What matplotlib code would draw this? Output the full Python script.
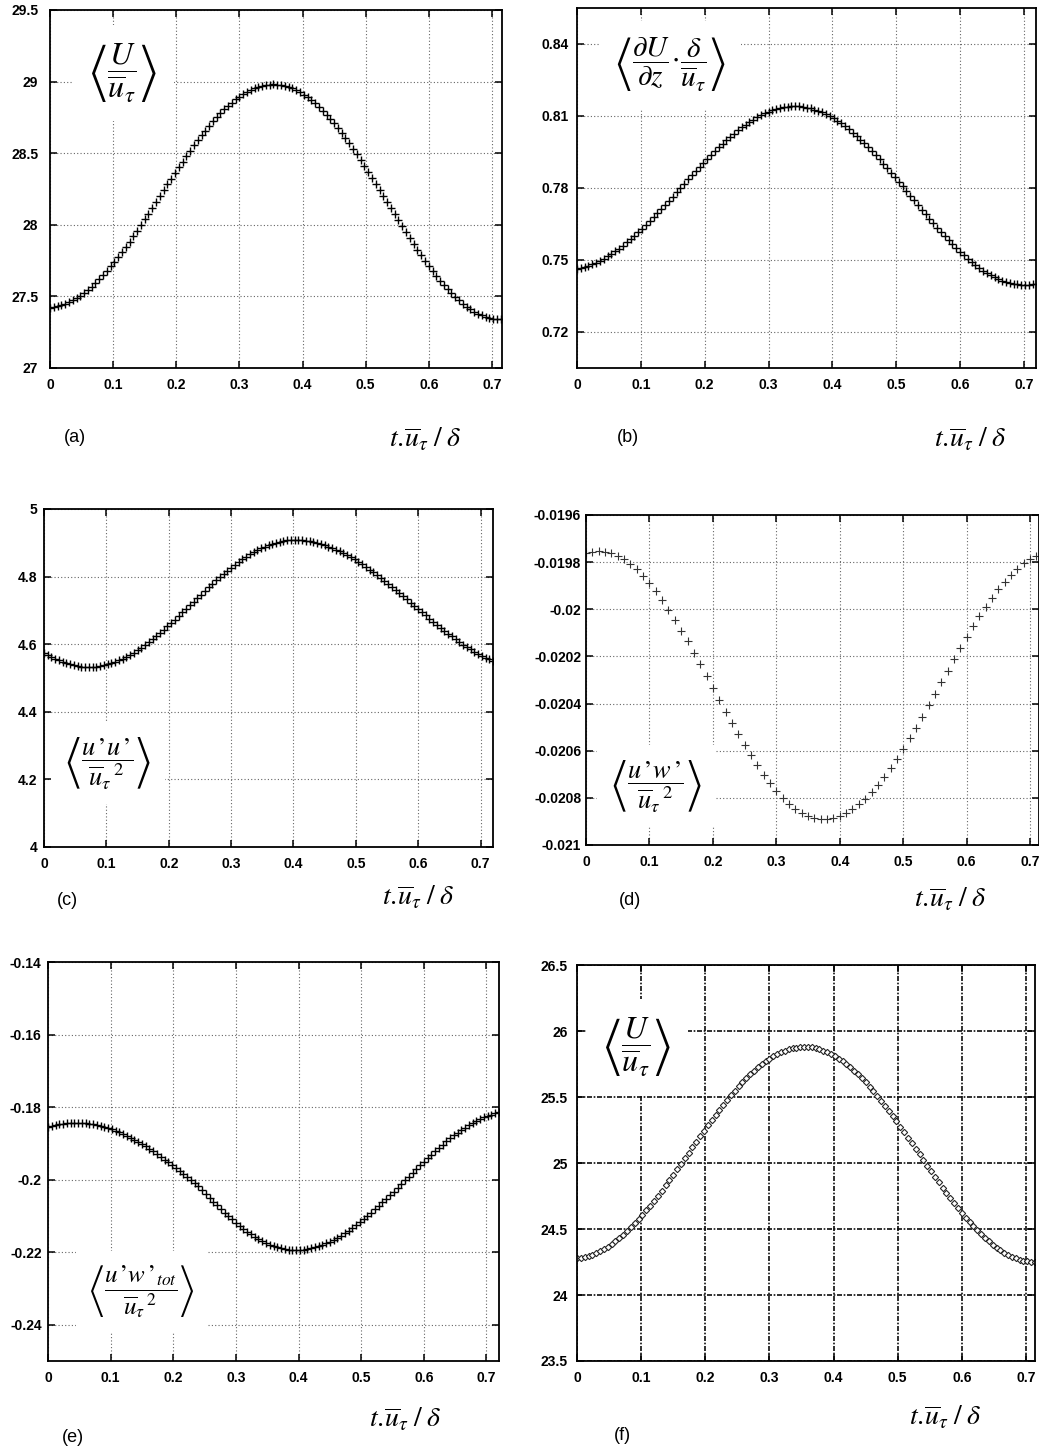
import numpy as np
import matplotlib
matplotlib.use("Agg")
import matplotlib.pyplot as plt
from matplotlib.ticker import FormatStrFormatter, FixedLocator

plt.rcParams['mathtext.fontset'] = 'stix'
plt.rcParams['font.family'] = ['Liberation Sans', 'DejaVu Sans']

W, H = 1039, 1452

# --- data (time step 0.006 for a,b,c,e,f; 0.01 for d) ---
t_fine = np.linspace(0.0, 0.72, 121)
t_coarse = np.linspace(0.0, 0.72, 73)

# (a) <U/u_tau>
u_mean_a = [
    27.421, 27.424, 27.430, 27.437, 27.447, 27.458, 27.472, 27.487, 27.505, 27.525,
    27.546, 27.569, 27.594, 27.620, 27.648, 27.678, 27.709, 27.742, 27.775, 27.810,
    27.846, 27.883, 27.920, 27.959, 27.998, 28.038, 28.078, 28.118, 28.159, 28.200,
    28.241, 28.282, 28.322, 28.362, 28.402, 28.441, 28.480, 28.517, 28.554, 28.590,
    28.625, 28.658, 28.691, 28.722, 28.752, 28.780, 28.806, 28.831, 28.854, 28.876,
    28.895, 28.913, 28.928, 28.942, 28.953, 28.963, 28.970, 28.976, 28.979, 28.980,
    28.979, 28.975, 28.970, 28.962, 28.952, 28.940, 28.926, 28.909, 28.891, 28.870,
    28.848, 28.823, 28.797, 28.769, 28.740, 28.709, 28.676, 28.642, 28.607, 28.570,
    28.532, 28.494, 28.454, 28.413, 28.372, 28.330, 28.288, 28.246, 28.203, 28.160,
    28.117, 28.074, 28.032, 27.990, 27.948, 27.907, 27.866, 27.827, 27.788, 27.750,
    27.713, 27.678, 27.644, 27.611, 27.580, 27.551, 27.523, 27.497, 27.472, 27.450,
    27.429, 27.411, 27.394, 27.380, 27.368, 27.358, 27.350, 27.345, 27.341, 27.340,
    27.341,
]

# (b) <dU/dz . delta/u_tau>
dudz_b = [
    0.7464, 0.7467, 0.7472, 0.7477, 0.7483, 0.7489, 0.7497, 0.7506, 0.7515, 0.7525,
    0.7536, 0.7547, 0.7560, 0.7573, 0.7586, 0.7600, 0.7615, 0.7630, 0.7646, 0.7662,
    0.7678, 0.7695, 0.7712, 0.7729, 0.7747, 0.7764, 0.7782, 0.7800, 0.7818, 0.7836,
    0.7853, 0.7871, 0.7888, 0.7905, 0.7922, 0.7938, 0.7954, 0.7970, 0.7985, 0.8000,
    0.8014, 0.8027, 0.8040, 0.8053, 0.8064, 0.8075, 0.8085, 0.8094, 0.8103, 0.8111,
    0.8117, 0.8123, 0.8128, 0.8133, 0.8136, 0.8138, 0.8140, 0.8140,
    0.8140, 0.8138, 0.8135, 0.8132, 0.8127, 0.8122, 0.8115, 0.8108, 0.8100, 0.8090,
    0.8080, 0.8069, 0.8057, 0.8044, 0.8031, 0.8017, 0.8002, 0.7987, 0.7971, 0.7954,
    0.7937, 0.7919, 0.7901, 0.7883, 0.7864, 0.7845, 0.7826, 0.7807, 0.7788, 0.7768,
    0.7749, 0.7729, 0.7710, 0.7691, 0.7672, 0.7653, 0.7635, 0.7617, 0.7599, 0.7582,
    0.7565, 0.7549, 0.7534, 0.7519, 0.7505, 0.7492, 0.7479, 0.7467, 0.7456, 0.7446,
    0.7437, 0.7428, 0.7421, 0.7414, 0.7409, 0.7404, 0.7401, 0.7398, 0.7397, 0.7396,
    0.7397, 0.7398, 0.7401,
]

# (c) <u'u'/u_tau^2>
uu_c = [
    4.575, 4.569, 4.563, 4.557, 4.552, 4.548, 4.544, 4.541, 4.538, 4.536, 4.534, 4.533,
    4.533, 4.533, 4.534, 4.536, 4.538, 4.541, 4.544, 4.548, 4.552, 4.557,
    4.563, 4.569, 4.575, 4.582, 4.590, 4.598, 4.606, 4.615, 4.624, 4.633,
    4.643, 4.653, 4.663, 4.673, 4.683, 4.694, 4.705, 4.715, 4.726, 4.737,
    4.747, 4.758, 4.768, 4.778, 4.789, 4.798, 4.808, 4.817, 4.826, 4.835,
    4.843, 4.851, 4.859, 4.866, 4.872, 4.878, 4.884, 4.889, 4.893, 4.897,
    4.900, 4.903, 4.905, 4.907, 4.908, 4.908,
    4.908, 4.907, 4.906, 4.904, 4.902, 4.900, 4.897, 4.893, 4.889, 4.885,
    4.880, 4.875, 4.870, 4.864, 4.858, 4.851, 4.844, 4.837, 4.829, 4.821,
    4.813, 4.805, 4.797, 4.788, 4.779, 4.770, 4.761, 4.751, 4.742, 4.733,
    4.723, 4.714, 4.704, 4.695, 4.685, 4.676, 4.667, 4.658, 4.649, 4.640,
    4.631, 4.623, 4.615, 4.607, 4.599, 4.592, 4.585, 4.578, 4.572, 4.566,
    4.560, 4.555, 4.550,
]

# (d) <u'w'/u_tau^2>
uw_d = [
    -0.019762, -0.019755, -0.019753, -0.019755, -0.019762, -0.019773, -0.019788, -0.019808, -0.019831, -0.019859,
    -0.019890, -0.019924, -0.019961, -0.020002, -0.020045, -0.020090, -0.020136, -0.020184, -0.020234, -0.020284,
    -0.020334, -0.020384, -0.020434, -0.020483, -0.020530, -0.020576, -0.020620, -0.020662, -0.020701, -0.020737,
    -0.020769, -0.020799, -0.020824, -0.020846, -0.020863, -0.020876, -0.020885, -0.020889,
    -0.020889, -0.020885, -0.020877, -0.020864, -0.020848, -0.020828, -0.020803, -0.020776, -0.020745, -0.020710,
    -0.020673, -0.020634, -0.020592, -0.020548, -0.020502, -0.020455, -0.020407,
    -0.020358, -0.020310, -0.020261, -0.020212, -0.020165, -0.020119, -0.020073, -0.020030, -0.019990, -0.019951,
    -0.019915, -0.019883, -0.019854, -0.019827, -0.019805, -0.019787, -0.019772, -0.019761,
]

# (e) <u'w'_tot/u_tau^2>
uw_tot_e = [
    -0.18544, -0.18516, -0.18492, -0.18471, -0.18455, -0.18443, -0.18435, -0.18431, -0.18431, -0.18435,
    -0.18443, -0.18455, -0.18471, -0.18492, -0.18516, -0.18544, -0.18576, -0.18612, -0.18651, -0.18694,
    -0.18741, -0.18790, -0.18844, -0.18900, -0.18959, -0.19021, -0.19086, -0.19153, -0.19223, -0.19295,
    -0.19369, -0.19445, -0.19523, -0.19602, -0.19683, -0.19765, -0.19848, -0.19931, -0.20016, -0.20100,
    -0.20185, -0.20292, -0.20398, -0.20503, -0.20608, -0.20710, -0.20811, -0.20910, -0.21005, -0.21098,
    -0.21188, -0.21273, -0.21355, -0.21432, -0.21505, -0.21573, -0.21636, -0.21693, -0.21745, -0.21791,
    -0.21831, -0.21865, -0.21893, -0.21914, -0.21929, -0.21938, -0.21940, -0.21936, -0.21927, -0.21912,
    -0.21892, -0.21866, -0.21835, -0.21799, -0.21757, -0.21711, -0.21659, -0.21603, -0.21542, -0.21477,
    -0.21408, -0.21334, -0.21257, -0.21176, -0.21092, -0.21005, -0.20915, -0.20822, -0.20727, -0.20630,
    -0.20531, -0.20430, -0.20329, -0.20226, -0.20123, -0.20020, -0.19917, -0.19814, -0.19711, -0.19610,
    -0.19509, -0.19410, -0.19313, -0.19218, -0.19125, -0.19035, -0.18948, -0.18864, -0.18783, -0.18706,
    -0.18632, -0.18563, -0.18498, -0.18437, -0.18381, -0.18329, -0.18283, -0.18241, -0.18205, -0.18174,
    -0.18148,
]

# (f) <U/u_tau>, second case
u_mean_f = [
    24.279, 24.282, 24.288, 24.296, 24.305, 24.317, 24.331, 24.347, 24.365, 24.385,
    24.407, 24.431, 24.456, 24.484, 24.512, 24.543, 24.575, 24.608, 24.642, 24.678,
    24.715, 24.753, 24.791, 24.831, 24.871, 24.912, 24.953, 24.994, 25.036, 25.078,
    25.120, 25.162, 25.203, 25.244, 25.285, 25.325, 25.365, 25.403, 25.441, 25.478,
    25.514, 25.548, 25.581, 25.613, 25.644, 25.672, 25.700, 25.725, 25.749, 25.771,
    25.791, 25.809, 25.825, 25.839, 25.851, 25.860, 25.868, 25.874, 25.877, 25.878,
    25.878, 25.876, 25.870, 25.862, 25.852, 25.840, 25.826, 25.810, 25.791, 25.771,
    25.749, 25.724, 25.698, 25.671, 25.641, 25.610, 25.578, 25.544, 25.509, 25.473,
    25.435, 25.397, 25.357, 25.317, 25.276, 25.234, 25.192, 25.150, 25.108, 25.065,
    25.022, 24.980, 24.938, 24.896, 24.854, 24.813, 24.773, 24.733, 24.695, 24.657,
    24.621, 24.586, 24.552, 24.520, 24.489, 24.459, 24.432, 24.406, 24.381, 24.359,
    24.339, 24.320, 24.304, 24.290, 24.278, 24.268, 24.260, 24.254, 24.251, 24.250,
    24.251,
]

x_ticks = [0, 0.1, 0.2, 0.3, 0.4, 0.5, 0.6, 0.7]

U_LABEL = r'$\left\langle \dfrac{U}{\overline{u}_{\tau}} \right\rangle$'
XLABEL = r'$t{.}\!\overline{u}_{\tau}\;/\;\delta$'

# panel layout: pixel box (left, top, right, bottom), limits, ticks, label placement
panels = [
    dict(letter='(a)', box=(50, 10, 502, 368), x=t_fine, y=u_mean_a, xmax=0.716,
         ylim=(27, 29.5), yticks=[27, 27.5, 28, 28.5, 29, 29.5], ypad=8.5,
         label=U_LABEL, lab_xy=(123, 73), lab_size=23,
         letter_xy=(75, 437), xl_xy=(425, 440), style='plus'),
    dict(letter='(b)', box=(577, 8, 1036, 368), x=t_fine, y=dudz_b, xmax=0.719,
         ylim=(0.705, 0.855), yticks=[0.72, 0.75, 0.78, 0.81, 0.84], ypad=6,
         label=r'$\left\langle \dfrac{\partial U}{\partial z}\!\cdot\!\dfrac{\delta}{\overline{u}_{\tau}} \right\rangle$',
         lab_xy=(670, 65), lab_size=21,
         letter_xy=(628, 437), xl_xy=(970, 440), style='plus'),
    dict(letter='(c)', box=(44, 509, 493, 847), x=t_fine, y=uu_c, xmax=0.72,
         ylim=(4, 5), yticks=[4, 4.2, 4.4, 4.6, 4.8, 5], ypad=5,
         label=r"$\left\langle \dfrac{u\,’u\,’}{{\overline{u}_{\tau}}^{\,2}} \right\rangle$",
         lab_xy=(108, 763), lab_size=19,
         letter_xy=(67, 900), xl_xy=(418, 898), style='plus'),
    dict(letter='(d)', box=(586, 515, 1039, 845), x=t_coarse, y=uw_d, xmax=0.714,
         ylim=(-0.021, -0.0196),
         yticks=[-0.021, -0.0208, -0.0206, -0.0204, -0.0202, -0.02, -0.0198, -0.0196], ypad=3.5,
         label=r"$\left\langle \dfrac{u\,’w\,’}{{\overline{u}_{\tau}}^{\,2}} \right\rangle$",
         lab_xy=(656, 786), lab_size=19,
         letter_xy=(630, 900), xl_xy=(950, 900), style='thin'),
    dict(letter='(e)', box=(48, 962, 499, 1361), x=t_fine, y=uw_tot_e, xmax=0.72,
         ylim=(-0.25, -0.14), yticks=[-0.24, -0.22, -0.2, -0.18, -0.16, -0.14], ypad=4.5,
         label=r"$\left\langle \dfrac{u\,’w\,’_{tot}}{{\overline{u}_{\tau}}^{\,2}} \right\rangle$",
         lab_xy=(142, 1292), lab_size=18,
         letter_xy=(73, 1437), xl_xy=(405, 1420), style='plus'),
    dict(letter='(f)', box=(577, 965, 1035, 1361), x=t_fine, y=u_mean_f, xmax=0.714,
         ylim=(23.5, 26.5), yticks=[23.5, 24, 24.5, 25, 25.5, 26, 26.5], ypad=6.5,
         label=U_LABEL, lab_xy=(637, 1047), lab_size=23,
         letter_xy=(622, 1435), xl_xy=(945, 1418), style='diamond'),
]

fig = plt.figure(figsize=(W / 100, H / 100), dpi=100)

for p in panels:
    l, t, r, b = p['box']
    ax = fig.add_axes([l / W, 1 - b / H, (r - l) / W, (b - t) / H])

    if p['style'] == 'plus':
        ax.plot(p['x'], p['y'], ls='none', marker='+', ms=6, mew=1.0, color='black')
    elif p['style'] == 'thin':
        ax.plot(p['x'], p['y'], ls='none', marker='+', ms=5.5, mew=0.8, color='0.2')
    else:
        ax.plot(p['x'], p['y'], ls='none', marker='D', ms=3.2, mew=0.8,
                mfc='white', mec='0.15')

    ax.set_xlim(0, p['xmax'])
    ax.set_ylim(*p['ylim'])
    ax.xaxis.set_major_locator(FixedLocator(x_ticks))
    ax.yaxis.set_major_locator(FixedLocator(p['yticks']))
    ax.xaxis.set_major_formatter(FormatStrFormatter('%g'))
    ax.yaxis.set_major_formatter(FormatStrFormatter('%g'))

    if p['style'] == 'diamond':
        ax.grid(True, color='0.05', lw=1.2, ls=(0, (3, 1, 1, 1)))
    else:
        ax.grid(True, color='0.4', lw=0.8, ls=(0, (1, 2)))

    ax.tick_params(direction='in', length=5, width=1.1, top=True, right=True)
    ax.tick_params(axis='y', pad=p['ypad'], labelsize=10)
    ax.tick_params(axis='x', pad=7, labelsize=10)
    for lab in ax.get_xticklabels() + ax.get_yticklabels():
        lab.set_fontweight('bold')
    for s in ax.spines.values():
        s.set_linewidth(1.3)
        s.set_zorder(4)

    lx, ly = p['lab_xy']
    ax.text(lx / W, 1 - ly / H, p['label'], transform=fig.transFigure,
            ha='center', va='center', fontsize=p['lab_size'], zorder=3,
            bbox=dict(boxstyle='square,pad=0.5', fc='white', ec='none'))

    fx, fy = p['letter_xy']
    fig.text(fx / W, 1 - fy / H, p['letter'], ha='center', va='center', fontsize=13)
    xx, xy = p['xl_xy']
    fig.text(xx / W, 1 - xy / H, XLABEL, ha='center', va='center', fontsize=20)

fig.savefig('out.png', dpi=100)
